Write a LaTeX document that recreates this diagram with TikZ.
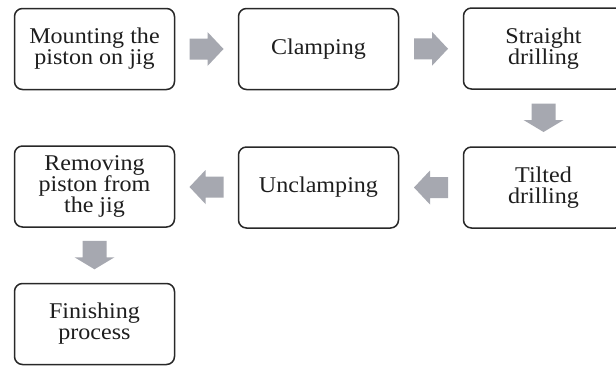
\documentclass[tikz,border=0pt]{standalone}
\usepackage{fontspec}
\setmainfont{Liberation Serif}[FakeStretch=1.07]
\usetikzlibrary{calc}
\definecolor{arrowgray}{RGB}{166,168,176}
\definecolor{boxline}{RGB}{40,40,40}
\definecolor{txt}{RGB}{30,30,30}
\tikzset{
  stepbox/.style={draw=boxline, line width=1.5pt, rounded corners=8pt, fill=white,
    minimum width=160pt, minimum height=81pt, inner sep=2pt, align=center,
    text=txt, font=\fontsize{22.5}{21}\selectfont},
  harrow/.pic={\fill[arrowgray] (-17,-10.5) -- (1,-10.5) -- (1,-17) -- (17,0) -- (1,17) -- (1,10.5) -- (-17,10.5) -- cycle;},
  varrow/.pic={\fill[arrowgray] (-12,-14.5) -- (12,-14.5) -- (12,2) -- (20,2) -- (0,14) -- (-20,2) -- (-12,2) -- cycle;}
}
\begin{document}
\begin{tikzpicture}[x=1pt,y=-1pt]
\useasboundingbox[fill=white] (0,0) rectangle (616,367);
\node[stepbox] (A) at (94.5,49) {Mounting the\\piston on jig};
\node[stepbox] (B) at (318.5,49) {Clamping};
\node[stepbox] (C) at (543.5,48.5) {Straight\\drilling};
\node[stepbox] (D) at (543.5,187.5) {Tilted\\drilling};
\node[stepbox] (E) at (318.5,187.5) {Unclamping};
\node[stepbox] (F) at (94.5,186.5) {Removing\\piston from\\the jig};
\node[stepbox] (G) at (94.5,324) {Finishing\\process};
\pic at ($(A.east)!0.5!(B.west)$) {harrow};
\pic at ($(B.east)!0.5!(C.west)$) {harrow};
\pic at ($(C.south)!0.5!(D.north)$) {varrow};
\pic[rotate=180] at ($(D.west)!0.5!(E.east)$) {harrow};
\pic[rotate=180] at ($(E.west)!0.5!(F.east)$) {harrow};
\pic at ($(F.south)!0.5!(G.north)$) {varrow};
\end{tikzpicture}
\end{document}
